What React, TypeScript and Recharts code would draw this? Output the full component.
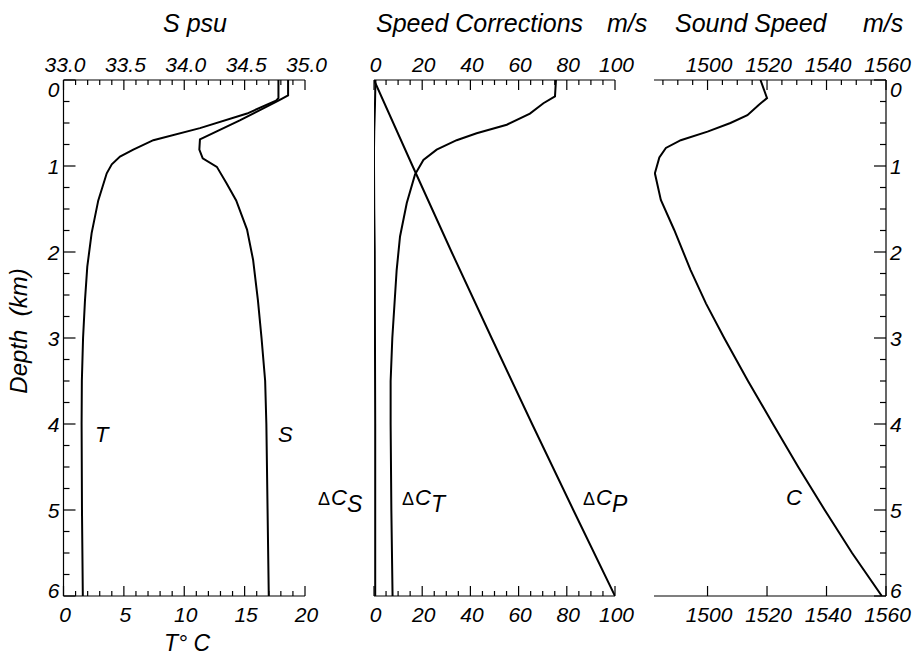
import React from "react";
import { Scatter, ScatterChart, XAxis, YAxis } from "recharts";

const FONT = '"Liberation Sans", Arial, Helvetica, sans-serif';

// panel 1: temperature (bottom axis) and salinity (top axis)
const tempDepth = [0, 0.21, 0.24, 0.39, 0.56, 0.7, 0.81, 0.89, 0.98, 1.085, 1.4, 1.78, 2.17, 2.56, 3.0, 3.5, 4.0, 5.0, 6.0];
const tempValues = [17.8, 17.8, 17.6, 15.2, 11.3, 7.44, 5.78, 4.68, 4.0, 3.58, 2.88, 2.33, 1.97, 1.78, 1.62, 1.52, 1.5, 1.53, 1.6];

const salDepth = [0, 0.18, 0.24, 0.47, 0.69, 0.81, 0.91, 1.01, 1.2, 1.4, 1.74, 2.09, 2.56, 3.0, 3.5, 4.0, 5.0, 6.0];
const salValues = [34.86, 34.86, 34.78, 34.46, 34.13, 34.125, 34.153, 34.27, 34.35, 34.43, 34.52, 34.57, 34.61, 34.64, 34.67, 34.68, 34.69, 34.7];

// panel 2: speed corrections
const dcsDepth = [0, 0.3, 0.6, 0.8, 1.0, 1.5, 2.0, 3.0, 4.0, 6.0];
const dcsValues = [0.6, 0.4, 0.1, 0, 0, 0.1, 0.3, 0.4, 0.5, 0.5];

const dctDepth = [0, 0.19, 0.27, 0.39, 0.52, 0.62, 0.7, 0.81, 0.93, 1.1, 1.43, 1.82, 2.21, 3.0, 3.5, 4.0, 5.0, 6.0];
const dctValues = [75.5, 75.1, 70.3, 64.7, 55.1, 42.6, 34.3, 26.0, 20.5, 17.0, 13.6, 10.8, 9.4, 7.6, 6.9, 6.9, 7.2, 7.7];

const dcpDepth = [0, 1, 2, 3, 4, 5, 6];
const dcpValues = [0, 16.0, 32.2, 48.8, 65.6, 82.7, 100];

// panel 3: sound speed
const soundDepth = [0, 0.21, 0.29, 0.41, 0.5, 0.6, 0.7, 0.79, 0.9, 1.085, 1.395, 1.744, 2.21, 2.6, 3.0, 3.5, 4.0, 4.5, 5.0, 5.5, 6.0];
const soundValues = [1517.8, 1520.0, 1517.2, 1513.4, 1507.7, 1500, 1491, 1486, 1483.8, 1482.3, 1484.3, 1488.8, 1494.3, 1499.5, 1505.6, 1513.6, 1522.0, 1530.5, 1539.4, 1548.6, 1558.6];

// ticks
const depthTicks = [0, 0.25, 0.5, 0.75, 1, 1.25, 1.5, 1.75, 2, 2.25, 2.5, 2.75, 3, 3.25, 3.5, 3.75, 4, 4.25, 4.5, 4.75, 5, 5.25, 5.5, 5.75, 6];
const salTicks = [33.0, 33.1, 33.2, 33.3, 33.4, 33.5, 33.6, 33.7, 33.8, 33.9, 34.0, 34.1, 34.2, 34.3, 34.4, 34.5, 34.6, 34.7, 34.8, 34.9, 35.0];
const salMajor = [33.0, 33.5, 34.0, 34.5, 35.0];
const tempTicks = [0, 1, 2, 3, 4, 5, 6, 7, 8, 9, 10, 11, 12, 13, 14, 15, 16, 17, 18, 19, 20];
const tempMajor = [0, 5, 10, 15, 20];
const corrTicks = [0, 5, 10, 15, 20, 25, 30, 35, 40, 45, 50, 55, 60, 65, 70, 75, 80, 85, 90, 95, 100];
const corrMajor = [0, 20, 40, 60, 80, 100];
const soundTopTicks = [1485, 1490, 1495, 1500, 1505, 1510, 1515, 1520, 1525, 1530, 1535, 1540, 1545, 1550, 1555, 1560];
const soundMajor = [1500, 1520, 1540, 1560];

const zip = (ds: number[], vs: number[]) => ds.map((d, i) => ({ d, v: vs[i] }));

const textStyle = { fontFamily: FONT, fontStyle: "italic" as const, fill: "#000" };

function xTick(side: "top" | "bottom", majors: number[], fmt: (v: number) => string) {
  return (props: any) => {
    const { x, y, payload } = props;
    const v = payload.value as number;
    const major = majors.some((m) => Math.abs(m - v) < 1e-6);
    const dir = side === "top" ? 1 : -1;
    const len = major ? 10 : 5;
    return (
      <g>
        <line x1={x} x2={x} y1={y} y2={y + dir * len} stroke="#000" strokeWidth={1.2} />
        {major && (
          <text x={x + 1.5} y={side === "top" ? y - 8.5 : y + 25.5} textAnchor="middle" fontSize={21} style={textStyle}>
            {fmt(v)}
          </text>
        )}
      </g>
    );
  };
}

function depthTick(side: "left" | "right") {
  return (props: any) => {
    const { x, y, payload } = props;
    const v = payload.value as number;
    const major = Number.isInteger(v);
    const dir = side === "left" ? 1 : -1;
    const len = major ? 12 : 6;
    let dy = 7.5;
    if (v === 0) dy += 9;
    if (v === 6) dy -= 6;
    return (
      <g>
        <line x1={x} x2={x + dir * len} y1={y} y2={y} stroke="#000" strokeWidth={1.2} />
        {major && (
          <text
            x={side === "left" ? x - 4 : x + 4}
            y={y + dy}
            textAnchor={side === "left" ? "end" : "start"}
            fontSize={21}
            style={textStyle}
          >
            {v}
          </text>
        )}
      </g>
    );
  };
}

const axisLine = { stroke: "#000", strokeWidth: 1.2 };
const curve = { stroke: "#000", strokeWidth: 2, fill: "none" };
const noDot = () => <g />;

const layer: React.CSSProperties = { position: "absolute", left: 0, top: 0 };

export default function App() {
  return (
    <div style={{ position: "absolute", left: 0, top: 0, width: 916, height: 656, background: "#fff" }}>
      {/* T / S */}
      <div style={layer}>
        <ScatterChart width={916} height={656} margin={{ top: 0, right: 611, bottom: 0, left: 0 }}>
          <XAxis
            xAxisId="s"
            orientation="top"
            type="number"
            dataKey="v"
            domain={[33, 35]}
            allowDataOverflow
            ticks={salTicks}
            interval={0}
            height={80}
            tickSize={0}
            tickMargin={0}
            axisLine={axisLine}
            tickLine={false}
            tick={xTick("top", salMajor, (v) => v.toFixed(1))}
          />
          <XAxis
            xAxisId="t"
            orientation="bottom"
            type="number"
            dataKey="v"
            domain={[0, 20]}
            allowDataOverflow
            ticks={tempTicks}
            interval={0}
            height={60}
            tickSize={0}
            tickMargin={0}
            axisLine={axisLine}
            tickLine={false}
            tick={xTick("bottom", tempMajor, (v) => String(v))}
          />
          <YAxis
            yAxisId="d"
            type="number"
            dataKey="d"
            domain={[0, 6]}
            reversed
            allowDataOverflow
            ticks={depthTicks}
            interval={0}
            width={63.5}
            tickSize={0}
            tickMargin={0}
            axisLine={axisLine}
            tickLine={false}
            tick={depthTick("left")}
          />
          <Scatter xAxisId="t" yAxisId="d" data={zip(tempDepth, tempValues)} line={curve} lineType="joint" shape={noDot} isAnimationActive={false} />
          <Scatter xAxisId="s" yAxisId="d" data={zip(salDepth, salValues)} line={curve} lineType="joint" shape={noDot} isAnimationActive={false} />
        </ScatterChart>
      </div>

      {/* speed corrections */}
      <div style={layer}>
        <ScatterChart width={916} height={656} margin={{ top: 0, right: 301, bottom: 0, left: 374 }}>
          <XAxis
            xAxisId="top"
            orientation="top"
            type="number"
            dataKey="v"
            domain={[0, 100]}
            allowDataOverflow
            ticks={corrTicks}
            interval={0}
            height={80}
            tickSize={0}
            tickMargin={0}
            axisLine={axisLine}
            tickLine={false}
            tick={xTick("top", corrMajor, (v) => String(v))}
          />
          <XAxis
            xAxisId="bot"
            orientation="bottom"
            type="number"
            dataKey="v"
            domain={[0, 100]}
            allowDataOverflow
            ticks={corrTicks}
            interval={0}
            height={60}
            tickSize={0}
            tickMargin={0}
            axisLine={axisLine}
            tickLine={false}
            tick={xTick("bottom", corrMajor, (v) => String(v))}
          />
          <YAxis yAxisId="d" type="number" dataKey="d" domain={[0, 6]} reversed allowDataOverflow hide />
          <Scatter xAxisId="bot" yAxisId="d" data={zip(dcsDepth, dcsValues)} line={curve} lineType="joint" shape={noDot} isAnimationActive={false} />
          <Scatter xAxisId="bot" yAxisId="d" data={zip(dctDepth, dctValues)} line={curve} lineType="joint" shape={noDot} isAnimationActive={false} />
          <Scatter xAxisId="bot" yAxisId="d" data={zip(dcpDepth, dcpValues)} line={curve} lineType="joint" shape={noDot} isAnimationActive={false} />
        </ScatterChart>
      </div>

      {/* sound speed */}
      <div style={layer}>
        <ScatterChart width={916} height={656} margin={{ top: 0, right: 0, bottom: 0, left: 654 }}>
          <XAxis
            xAxisId="top"
            orientation="top"
            type="number"
            dataKey="v"
            domain={[1482, 1560]}
            allowDataOverflow
            ticks={soundTopTicks}
            interval={0}
            height={80}
            tickSize={0}
            tickMargin={0}
            axisLine={axisLine}
            tickLine={false}
            tick={xTick("top", soundMajor, (v) => String(v))}
          />
          <XAxis
            xAxisId="bot"
            orientation="bottom"
            type="number"
            dataKey="v"
            domain={[1482, 1560]}
            allowDataOverflow
            ticks={soundMajor}
            interval={0}
            height={60}
            tickSize={0}
            tickMargin={0}
            axisLine={axisLine}
            tickLine={false}
            tick={xTick("bottom", soundMajor, (v) => String(v))}
          />
          <YAxis
            yAxisId="d"
            orientation="right"
            type="number"
            dataKey="d"
            domain={[0, 6]}
            reversed
            allowDataOverflow
            ticks={depthTicks}
            interval={0}
            width={30}
            tickSize={0}
            tickMargin={0}
            axisLine={axisLine}
            tickLine={false}
            tick={depthTick("right")}
          />
          <Scatter xAxisId="bot" yAxisId="d" data={zip(soundDepth, soundValues)} line={curve} lineType="joint" shape={noDot} isAnimationActive={false} />
        </ScatterChart>
      </div>

      {/* titles and annotations */}
      <svg width={916} height={656} style={{ ...layer, pointerEvents: "none" }}>
        <g style={textStyle}>
          <text x={195} y={32} textAnchor="middle" fontSize={25}>S psu</text>
          <text x={376} y={32} fontSize={25}>Speed Corrections</text>
          <text x={607} y={32} fontSize={25}>m/s</text>
          <text x={675} y={32} fontSize={25}>Sound Speed</text>
          <text x={863} y={32} fontSize={25}>m/s</text>
          <text x={187} y={651} textAnchor="middle" fontSize={23}>T° C</text>
          <text x={27} y={331} textAnchor="middle" fontSize={24} transform="rotate(-90 27 331)" xmlSpace="preserve">Depth  (km)</text>
          <text x={95} y={442} fontSize={22}>T</text>
          <text x={278} y={442} fontSize={22}>S</text>
          <text x={318} y={505} fontSize={22}>
            <tspan fontSize={18} fontStyle="normal">Δ</tspan>
            <tspan dx={1}>C</tspan>
            <tspan dy={7} fontSize={23}>S</tspan>
          </text>
          <text x={402} y={505} fontSize={22}>
            <tspan fontSize={18} fontStyle="normal">Δ</tspan>
            <tspan dx={1}>C</tspan>
            <tspan dy={7} fontSize={23}>T</tspan>
          </text>
          <text x={583} y={505} fontSize={22}>
            <tspan fontSize={18} fontStyle="normal">Δ</tspan>
            <tspan dx={1}>C</tspan>
            <tspan dy={7} fontSize={23}>P</tspan>
          </text>
          <text x={786} y={505} fontSize={22}>C</text>
        </g>
      </svg>
    </div>
  );
}
